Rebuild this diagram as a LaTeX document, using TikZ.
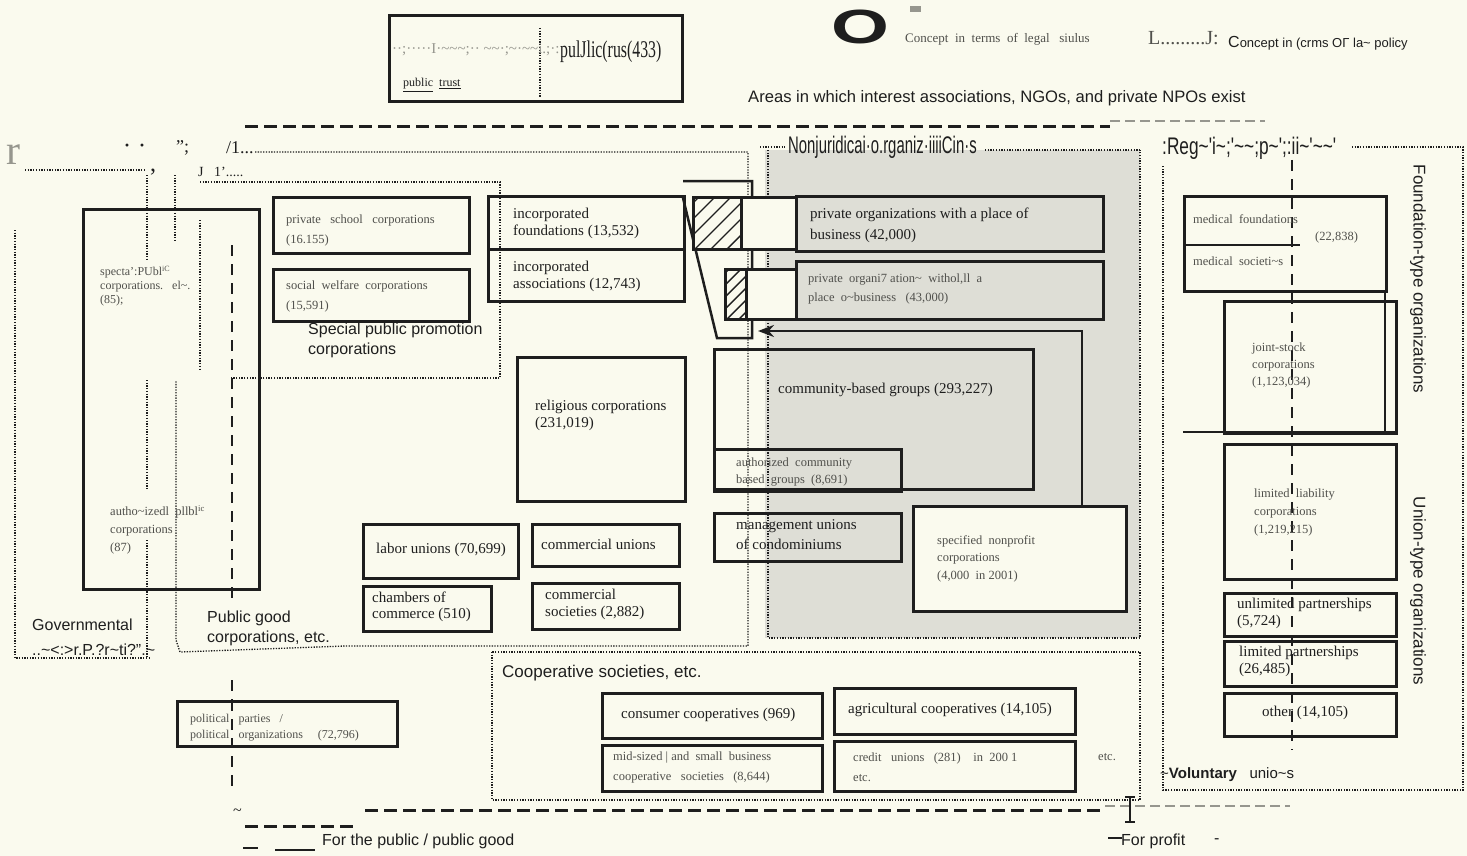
\documentclass[tikz,border=0pt]{standalone}
\usepackage{fontspec}
\usepackage{graphicx}
\setmainfont{Liberation Serif}
\setsansfont{Liberation Sans}
\newfontfamily\narrowsans[FakeStretch=0.62]{Liberation Sans}
\newfontfamily\regsans[FakeStretch=0.72]{Liberation Sans}
\newfontfamily\narrowserif[FakeStretch=0.66]{Liberation Serif}
\newcommand{\tlde}{\textasciitilde}
\usetikzlibrary{arrows.meta}
\definecolor{paper}{RGB}{250,250,238}
\definecolor{nongray}{RGB}{222,222,214}
\definecolor{ink}{RGB}{30,30,30}
\definecolor{soft}{RGB}{80,80,76}
\definecolor{faint}{RGB}{150,150,142}
\begin{document}
\begin{tikzpicture}[x=1pt,y=-1pt,
 box/.style={draw=ink, line width=2.5pt, inner sep=0, anchor=north west},
 dotline/.style={draw=ink, line width=1.3pt, dash pattern=on 1.3pt off 1.4pt},
 bigdash/.style={draw=ink, line width=3pt, dash pattern=on 13pt off 6pt},
 lightdash/.style={draw=faint, line width=1.2pt, dash pattern=on 10pt off 5pt},
 vdash/.style={draw=ink, line width=2.8pt, dash pattern=on 11pt off 8pt},
 lbl/.style={inner sep=0, anchor=west, align=left, text=ink},
 sm/.style={text=soft, font=\fontsize{12.5}{17}\selectfont},
 md/.style={font=\fontsize{15}{17}\selectfont},
 sans/.style={font=\sffamily\fontsize{16}{20}\selectfont},
 hatch/.style={draw=ink, line width=1.4pt},
]
\fill[paper] (0,0) rectangle (1467,856);
\useasboundingbox (0,0) rectangle (1467,856);

% shaded nonjuridical area
\fill[nongray] (765,150) rectangle (1140,638);
\path[dotline] (768,150) -- (768,638) -- (1140,638) -- (1140,150);
\path[dotline] (760,147) -- (785,147);
\path[dotline] (985,150) -- (1140,150);
\node[lbl, font=\narrowsans\fontsize{24}{24}\selectfont] (nonj) at (788,147) {Nonjuridicai·o.rganiz·iiiiCin·s};

% top box
\node[box, line width=2.6pt, minimum width=293pt, minimum height=86pt] (topbox) at (388,14) {};
\path[dotline] (540,28) -- (540,98);
\node[lbl, text=faint, font=\fontsize{15}{15}\selectfont] (topgarb) at (392,50) {··;·····I·\tlde\tlde\tlde;·· \tlde\tlde·;\tlde·\tlde\tlde i.;·:};
\node[lbl, font=\narrowserif\fontsize{24}{24}\selectfont] (pubtrust) at (560,52) {pulJlic(rus(433)};
\node[lbl, sm, text=ink, font=\fontsize{12}{12}\selectfont] (pt) at (403,85) {\underline{public}\ \ \underline{trust}};

% legend
\node[lbl, anchor=center, font=\sffamily\bfseries\fontsize{48}{48}\selectfont] (legO) at (860,27) {\scalebox{1.55}[1]{O}};
\fill[faint] (910,6) rectangle (921,12);
\node[lbl, sm, font=\fontsize{13}{13}\selectfont] (leg1) at (905,39) {Concept\ \ in\ \ terms\ \ of\ \ legal\ \ \ siulus};
\node[lbl, text=soft, font=\fontsize{20}{20}\selectfont] (legL) at (1148,38) {L.........J:};
\node[lbl, font=\sffamily\fontsize{13}{13}\selectfont] (leg2) at (1228,43) {{\fontsize{16}{16}\selectfont C}oncept in (crms OΓ la\tlde\ policy};

\node[lbl, font=\sffamily\fontsize{16.6}{20}\selectfont] (areas) at (748,98) {Areas in which interest associations, NGOs, and private NPOs exist};

% big dashed lines
\path[bigdash] (245,127) -- (1110,127);
\path[lightdash] (1110,121) -- (1265,121);
\path[bigdash] (365,810) -- (1105,810);
\path[lightdash] (1105,806) -- (1290,806);
\path[bigdash] (245,826) -- (355,826);
\draw[ink, line width=1.4pt] (1130,797) -- (1130,822) (1125,797) -- (1135,797) (1125,822) -- (1135,822);
\node[lbl, font=\fontsize{16}{16}\selectfont] (tilde) at (233,812) {\tlde};

% top-left garbage
\node[lbl, text=faint, font=\fontsize{42}{42}\selectfont] (gr) at (6,155) {r};
\node[lbl, font=\bfseries\fontsize{18}{18}\selectfont] (gdots) at (124,148) {·\ \ ·};
\node[lbl, font=\fontsize{18}{18}\selectfont] (gq) at (176,148) {";};
\node[lbl, font=\fontsize{18}{18}\selectfont] (g1) at (226,148) {/1...};
\node[lbl, font=\fontsize{24}{24}\selectfont] (gcomma) at (150,172) {,};
\node[lbl, font=\fontsize{14}{14}\selectfont] (gj) at (198,172) {J\ \ \ 1'.....};

% governmental dotted box
\path[dotline] (25,170) -- (145,170);
\path[dotline] (15,230) -- (15,658) -- (150,658);
\path[dotline] (147,175) -- (147,260);
\path[dotline] (147,380) -- (147,490);
\path[dotline] (147,540) -- (147,658);
\path[dotline] (175,175) -- (175,240);
\node[lbl, font=\sffamily\fontsize{16}{25}\selectfont] (gov) at (32,637) {Governmental\\..\tlde<:>r.P.?r\tlde ti?".\tlde};

% public good dotted box
\path[dotline] (255,152) -- (748,152) -- (748,646) -- (345,646) -- (180,652) -- (176,640) -- (176,380);
\node[lbl, sans] (pubgood) at (207,628) {Public good\\corporations, etc.};

% special public promotion dotted box
\path[dotline] (200,182) -- (500,182) -- (500,378) -- (230,378);
\path[dotline] (200,220) -- (200,370);
\node[lbl, sans] (sppromo) at (308,340) {Special public promotion\\corporations};

% special public corporations
\node[box, minimum width=176pt, minimum height=380pt] (spc) at (82,208) {};
\node[lbl, sm, font=\fontsize{12}{14}\selectfont] (spct) at (100,286) {specta':PUbl\textsuperscript{iC}\\corporations.\ \ \ el\tlde.\\(85);};
\node[lbl, sm, font=\fontsize{12.5}{18}\selectfont] (autht) at (110,530) {autho\tlde izedl\ \ pllbl\textsuperscript{ic}\\corporations\\(87)};

% vertical dashed public/private
\path[vdash] (232,245) -- (232,605);
\path[vdash] (232,680) -- (232,790);

% private school / social welfare
\node[box, minimum width=196pt, minimum height=56pt] (psc) at (272,196) {};
\node[lbl, sm, font=\fontsize{12.5}{20}\selectfont] (psct) at (286,230) {private\ \ \ school\ \ \ corporations\\(16.155)};
\node[box, minimum width=196pt, minimum height=52pt] (swc) at (272,268) {};
\node[lbl, sm, font=\fontsize{12.5}{20}\selectfont] (swct) at (286,296) {social\ \ welfare\ \ corporations\\(15,591)};

% incorporated foundations / associations
\node[box, minimum width=196pt, minimum height=53pt] (incf) at (487,195) {};
\node[box, minimum width=196pt, minimum height=52pt] (inca) at (487,248) {};
\node[lbl, md] (incft) at (513,223.5) {incorporated\\foundations (13,532)};
\node[lbl, md] (incat) at (513,276.5) {incorporated\\associations (12,743)};

% hatched connection region
\draw[ink, line width=2.5pt] (683,181) -- (752,181) -- (752,338) -- (717,338) -- (683,198);
\node[box, fill=paper, minimum width=55pt, minimum height=52pt] (cell1) at (740,196) {};
\node[box, fill=paper, minimum width=50pt, minimum height=50pt] (cell2) at (745,268) {};
\node[box, fill=paper, minimum width=48pt, minimum height=52pt] (hat1) at (692,196) {};
\node[box, fill=paper, minimum width=21pt, minimum height=50pt] (hat2) at (724,268) {};
\begin{scope}
\clip (692,196) rectangle (740,248);
\foreach \i in {-64,-48,...,48} \draw[hatch] (692+\i,252) -- ++(64,-64);
\end{scope}
\begin{scope}
\clip (724,268) rectangle (745,318);
\foreach \i in {-48,-36,...,24} \draw[hatch] (724+\i,322) -- ++(56,-56);
\end{scope}
\node[box, minimum width=48pt, minimum height=52pt] (hat1b) at (692,196) {};
\node[box, minimum width=21pt, minimum height=50pt] (hat2b) at (724,268) {};

% private organizations
\node[box, minimum width=307pt, minimum height=55pt] (po1) at (795,195) {};
\node[lbl, md, font=\fontsize{15}{21}\selectfont] (po1t) at (810,225.5) {private organizations with a place of\\business (42,000)};
\node[box, minimum width=307pt, minimum height=58pt] (po2) at (795,260) {};
\node[lbl, sm, font=\fontsize{12.5}{19}\selectfont] (po2t) at (808,288.5) {private\ \ organi7\ ation\tlde\ \ withol,ll\ \ a\\place\ \ o\tlde business\ \ \ (43,000)};

% community-based groups etc
\node[box, minimum width=319pt, minimum height=140pt] (cbg) at (713,348) {};
\node[lbl, md] (cbgt) at (778,390) {community-based groups (293,227)};
\node[box, minimum width=187pt, minimum height=42pt] (acbg) at (713,448) {};
\node[lbl, sm, font=\fontsize{12.5}{17}\selectfont] (acbgt) at (736,472.5) {authorized\ \ community\\based\ \ groups\ \ (8,691)};
\node[box, minimum width=187pt, minimum height=48pt] (muc) at (713,512) {};
\node[lbl, md, font=\fontsize{15}{20}\selectfont] (muct) at (736,535) {management unions\\of condominiums};
\node[box, fill=paper, minimum width=213pt, minimum height=105pt] (snc) at (912,505) {};
\node[lbl, sm, font=\fontsize{12.5}{17.5}\selectfont] (snct) at (937,558.5) {specified\ \ nonprofit\\corporations\\(4,000\ \ in 2001)};

% arrow from specified nonprofit corporations to hatched region
\coordinate (arrx) at (1082,331);
\coordinate (arrtip) at (758,331);
\draw[ink, line width=2.2pt, -{Stealth[length=16pt,width=12pt]}] (arrx |- snc.north) -- (arrx) -- (arrtip);

% religious etc.
\node[box, minimum width=168pt, minimum height=144pt] (rel) at (516,356) {};
\node[lbl, md] (relt) at (535,415.5) {religious corporations\\(231,019)};
\node[box, minimum width=155pt, minimum height=54pt] (lab) at (362,523) {};
\node[lbl, md] (labt) at (376,550) {labor unions (70,699)};
\node[box, minimum width=147pt, minimum height=42pt] (cu) at (531,523) {};
\node[lbl, md] (cut) at (541,544) {commercial unions};
\node[box, minimum width=128pt, minimum height=45pt] (coc) at (362,585) {};
\node[lbl, md, font=\fontsize{15}{16}\selectfont] (coct) at (372,607) {chambers of\\commerce (510)};
\node[box, minimum width=147pt, minimum height=46pt] (cs) at (531,582) {};
\node[lbl, md] (cst) at (545,604.5) {commercial\\societies (2,882)};

% cooperative societies
\path[dotline] (492,652) rectangle (1140,800);
\node[lbl, font=\sffamily\fontsize{17}{17}\selectfont] (coopt) at (502,673) {Cooperative societies, etc.};
\node[box, minimum width=220pt, minimum height=45pt] (cc) at (601,692) {};
\node[lbl, md] (cct) at (621,715) {consumer cooperatives (969)};
\node[box, minimum width=241pt, minimum height=46pt] (ac) at (833,687) {};
\node[lbl, md] (act) at (848,710) {agricultural cooperatives (14,105)};
\node[box, minimum width=220pt, minimum height=46pt] (msb) at (601,744) {};
\node[lbl, sm, font=\fontsize{12.5}{20}\selectfont] (msbt) at (613,767) {mid-sized\ |\ and\ \ small\ \ business\\cooperative\ \ \ societies\ \ \ (8,644)};
\node[box, minimum width=241pt, minimum height=50pt] (cr) at (833,740) {};
\node[lbl, sm, font=\fontsize{12.5}{20}\selectfont] (crt) at (853,767) {credit\ \ \ unions\ \ \ (281)\ \ \ \ in\ \ 200\ 1\\etc.};
\node[lbl, sm] (etc) at (1098,757) {etc.};

% political parties
\node[box, fill=paper, minimum width=220pt, minimum height=45pt] (pol) at (176,700) {};
\path[vdash] (232,700) -- (232,745);
\node[lbl, sm, font=\fontsize{12}{16}\selectfont] (polt) at (190,728) {political\ \ \ parties\ \ \ /\\political\ \ \ organizations\ \ \ \ \ (72,796)};

% right region
\node[lbl, font=\regsans\fontsize{24}{24}\selectfont] (reg) at (1162,148) {:Reg\tlde'i\tlde;'\tlde\tlde;p\tlde';:ii\tlde'\tlde\tlde'};
\path[dotline] (1352,147) -- (1463,147) -- (1463,790) -- (1163,790) -- (1163,165);
\path[vdash] (1292,160) -- (1292,750);
\node[box, line width=3pt, minimum width=202pt, minimum height=95pt] (med) at (1183,195) {};
\draw[ink, line width=2pt] (1183,245) -- (1300,245);
\draw[ink, line width=2.5pt] (1385,290) -- (1385,432);
\node[lbl, sm] (medf) at (1193,219) {medical\ \ foundations};
\node[lbl, sm] (medn) at (1315,237) {(22,838)};
\node[lbl, sm] (meds) at (1193,261) {medical\ \ societi\tlde s};
\node[box, minimum width=172pt, minimum height=132pt] (jsc) at (1223,300) {};
\draw[ink, line width=2.5pt] (1183,432) -- (1395,432);
\node[lbl, sm, font=\fontsize{12.5}{17}\selectfont] (jsct) at (1252,365) {joint-stock\\corporations\\(1,123,034)};
\node[box, minimum width=172pt, minimum height=135pt] (llc) at (1223,443) {};
\node[lbl, sm, font=\fontsize{12.5}{18}\selectfont] (llct) at (1254,512) {limited\ \ liability\\corporations\\(1,219,215)};
\node[box, minimum width=172pt, minimum height=43pt] (ulp) at (1223,592) {};
\node[lbl, md] (ulpt) at (1237,613.5) {unlimited partnerships\\(5,724)};
\node[box, minimum width=172pt, minimum height=45pt] (lp) at (1223,640) {};
\node[lbl, md] (lpt) at (1239,661) {limited partnerships\\(26,485)};
\node[box, minimum width=172pt, minimum height=43pt] (oth) at (1223,692) {};
\node[lbl, md] (otht) at (1262,713) {other (14,105)};
\node[inner sep=0, rotate=-90, font=\sffamily\fontsize{17}{17}\selectfont, text=ink] (fto) at (1418,279) {Foundation-type organizations};
\node[inner sep=0, rotate=-90, font=\sffamily\fontsize{17}{17}\selectfont, text=ink] (uto) at (1418,591) {Union-type organizations};
\node[lbl, font=\sffamily\fontsize{15}{15}\selectfont] (vol) at (1160,775) {\tlde{\bfseries Voluntary}\ \ \ unio\tlde s};

% bottom legend
\draw[ink, line width=1.4pt] (243,848) -- (258,848) (275,850) -- (315,850);
\node[lbl, sans] (forpub) at (322,841) {For the public / public good};
\draw[ink, line width=1.4pt] (1108,838) -- (1122,838);
\node[lbl, sans] (forprof) at (1121,841) {For profit};
\node[lbl, sans] (dashend) at (1214,841) {-};
\end{tikzpicture}
\end{document}
